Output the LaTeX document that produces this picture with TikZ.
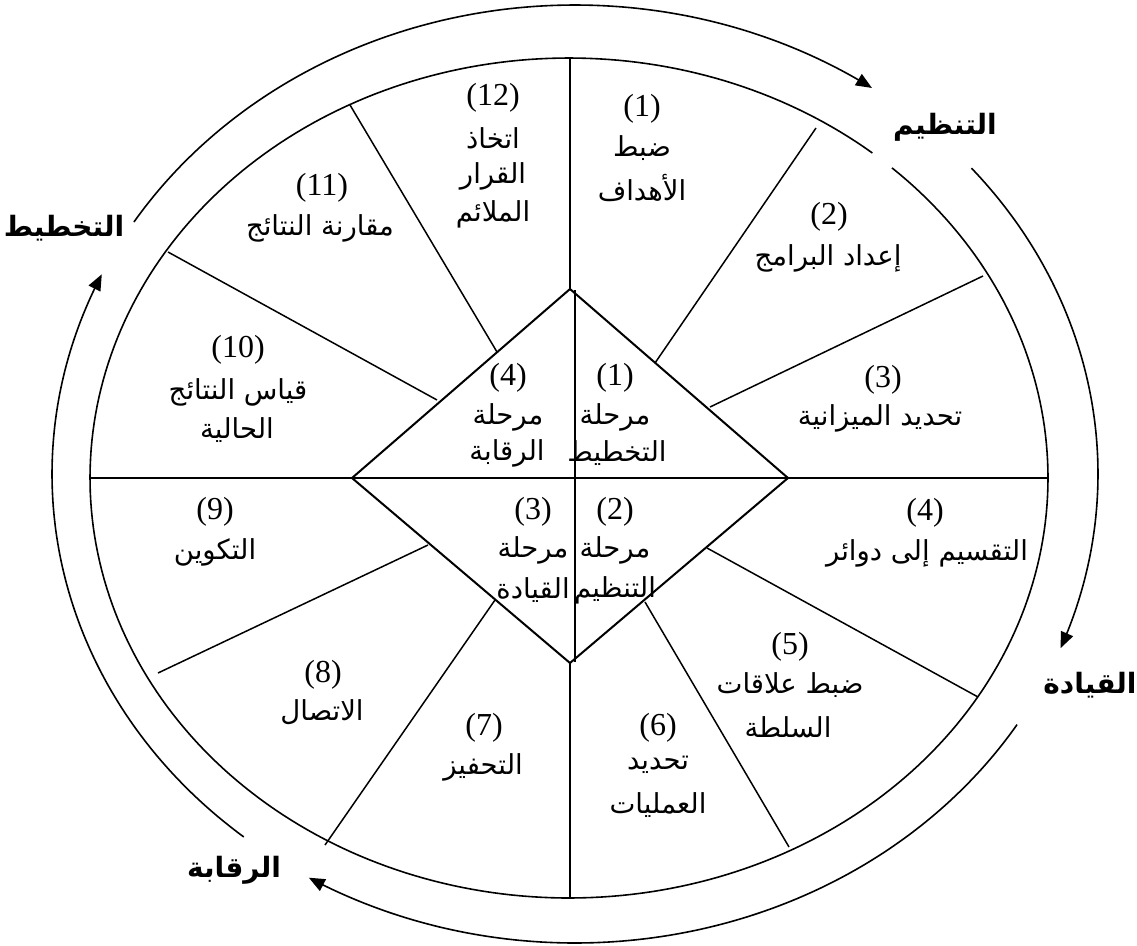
\documentclass[tikz,border=0pt]{standalone}
\usepackage{fontspec}
\setmainfont{Liberation Serif}
\newfontfamily\arabicfont[Script=Arabic]{DejaVu Sans}
\TeXXeTstate=1
\usetikzlibrary{arrows.meta}
\newcommand{\ar}[1]{\beginR #1\endR}
\begin{document}
\begin{tikzpicture}[x=1pt,y=-1pt,line width=1.6pt,
  num/.style={font=\fontsize{32}{32}\selectfont,inner sep=0pt},
  lbl/.style={font=\arabicfont\fontsize{27.5}{28}\selectfont,inner sep=0pt},
  big/.style={font=\arabicfont\bfseries\fontsize{28}{28}\selectfont,inner sep=0pt},
  tipped/.style={-{Triangle[length=16pt,width=13pt]}},
  spoke/.style={line width=1.5pt},
  diam/.style={line width=2pt,line join=miter}]
\useasboundingbox (0,0) rectangle (1137,945);
% inner ellipse (with small gap near the label)
\draw plot[domain=-47.6:309.3,samples=300] ({569+479*cos(\x)},{478+420*sin(\x)});
% outer arcs
\draw[tipped] plot[domain=212.5:304.6,samples=120] ({575+523*cos(\x)},{474+469*sin(\x)});
\draw[tipped] plot[domain=-40.7:21.8,samples=80] ({575+523*cos(\x)},{474+469*sin(\x)});
\draw[tipped] plot[domain=32.3:120.6,samples=120] ({575+523*cos(\x)},{474+469*sin(\x)});
\draw[tipped] plot[domain=129.3:205.2,samples=100] ({575+523*cos(\x)},{474+469*sin(\x)});
% diamond
\coordinate (dT) at (570,289);
\coordinate (dR) at (788,478);
\coordinate (dB) at (570,663);
\coordinate (dL) at (352,478);
% spokes
\coordinate (e1) at (570,58);
\coordinate (e2) at (816,128);   \coordinate (i2) at (655,363);
\coordinate (e3) at (983,276);   \coordinate (i3) at (710,407);
\coordinate (eR) at (1048,478);  \coordinate (eL) at (90,478);
\coordinate (e5) at (978,697);   \coordinate (i5) at (707,548);
\coordinate (e6) at (789,847);   \coordinate (i6) at (645,602);
\coordinate (e7) at (570,898);
\coordinate (e8) at (325,845);   \coordinate (i8) at (495,600);
\coordinate (e9) at (158,673);   \coordinate (i9) at (428,545);
\coordinate (e10) at (168,252);  \coordinate (i10) at (437,400);
\coordinate (e11) at (350,105);  \coordinate (i11) at (497,352);
\draw[spoke] (e1) -- (dT);
\draw[spoke] (e2) -- (i2);
\draw[spoke] (e3) -- (i3);
\draw[spoke] (e5) -- (i5);
\draw[spoke] (e6) -- (i6);
\draw[spoke] (dB) -- (e7);
\draw[spoke] (e8) -- (i8);
\draw[spoke] (e9) -- (i9);
\draw[spoke] (e10) -- (i10);
\draw[spoke] (e11) -- (i11);
\draw[line width=2.4pt] (eL) -- (eR);
\draw[diam] (dT) -- (dR) -- (dB) -- (dL) -- cycle;
\coordinate (vT) at (575,290);
\coordinate (vB) at (575,662);
\draw[line width=2.2pt] (vT) -- (vB);
% outer labels
\node[big] (lOrg) at (945,127) {\ar{التنظيم}};
\node[big] (lLead) at (1090,685) {\ar{القيادة}};
\node[big] (lCtrl) at (234,870) {\ar{الرقابة}};
\node[big] (lPlan) at (64,228) {\ar{التخطيط}};
% sector texts
\node[num] (n1) at (642,109) {(1)};
\node[lbl] (t1a) at (642,148) {\ar{ضبط}};
\node[lbl] (t1b) at (642,188) {\ar{الأهداف}};
\node[num] (n2) at (829,217) {(2)};
\node[lbl] (t2a) at (828,258) {\ar{إعداد البرامج}};
\node[num] (n3) at (883,380) {(3)};
\node[lbl] (t3a) at (880,418) {\ar{تحديد الميزانية}};
\node[num] (n4) at (925,513) {(4)};
\node[lbl] (t4a) at (927,553) {\ar{التقسيم إلى دوائر}};
\node[num] (n5) at (790,647) {(5)};
\node[lbl] (t5a) at (790,685) {\ar{ضبط علاقات}};
\node[lbl] (t5b) at (788,727) {\ar{السلطة}};
\node[num] (n6) at (658,728) {(6)};
\node[lbl] (t6a) at (658,765) {\ar{تحديد}};
\node[lbl] (t6b) at (658,805) {\ar{العمليات}};
\node[num] (n7) at (484,728) {(7)};
\node[lbl] (t7a) at (483,767) {\ar{التحفيز}};
\node[num] (n8) at (323,675) {(8)};
\node[lbl] (t8a) at (322,712) {\ar{الاتصال}};
\node[num] (n9) at (215,512) {(9)};
\node[lbl] (t9a) at (215,552) {\ar{التكوين}};
\node[num] (n10) at (238,350) {(10)};
\node[lbl] (t10a) at (238,392) {\ar{قياس النتائج}};
\node[lbl] (t10b) at (237,430) {\ar{الحالية}};
\node[num] (n11) at (322,188) {(11)};
\node[lbl] (t11a) at (320,228) {\ar{مقارنة النتائج}};
\node[num] (n12) at (493,98) {(12)};
\node[lbl] (t12a) at (493,138) {\ar{اتخاذ}};
\node[lbl] (t12b) at (493,176) {\ar{القرار}};
\node[lbl] (t12c) at (493,214) {\ar{الملائم}};
% diamond texts
\node[num] (m1) at (615,378) {(1)};
\node[lbl] (m1a) at (615,417) {\ar{مرحلة}};
\node[lbl] (m1b) at (617,453) {\ar{التخطيط}};
\node[num] (m4) at (508,378) {(4)};
\node[lbl] (m4a) at (508,417) {\ar{مرحلة}};
\node[lbl] (m4b) at (507,453) {\ar{الرقابة}};
\node[num] (m3) at (533,512) {(3)};
\node[lbl] (m3a) at (533,550) {\ar{مرحلة}};
\node[lbl] (m3b) at (533,590) {\ar{القيادة}};
\node[num] (m2) at (615,512) {(2)};
\node[lbl] (m2a) at (615,550) {\ar{مرحلة}};
\node[lbl] (m2b) at (615,590) {\ar{التنظيم}};
\end{tikzpicture}
\end{document}
